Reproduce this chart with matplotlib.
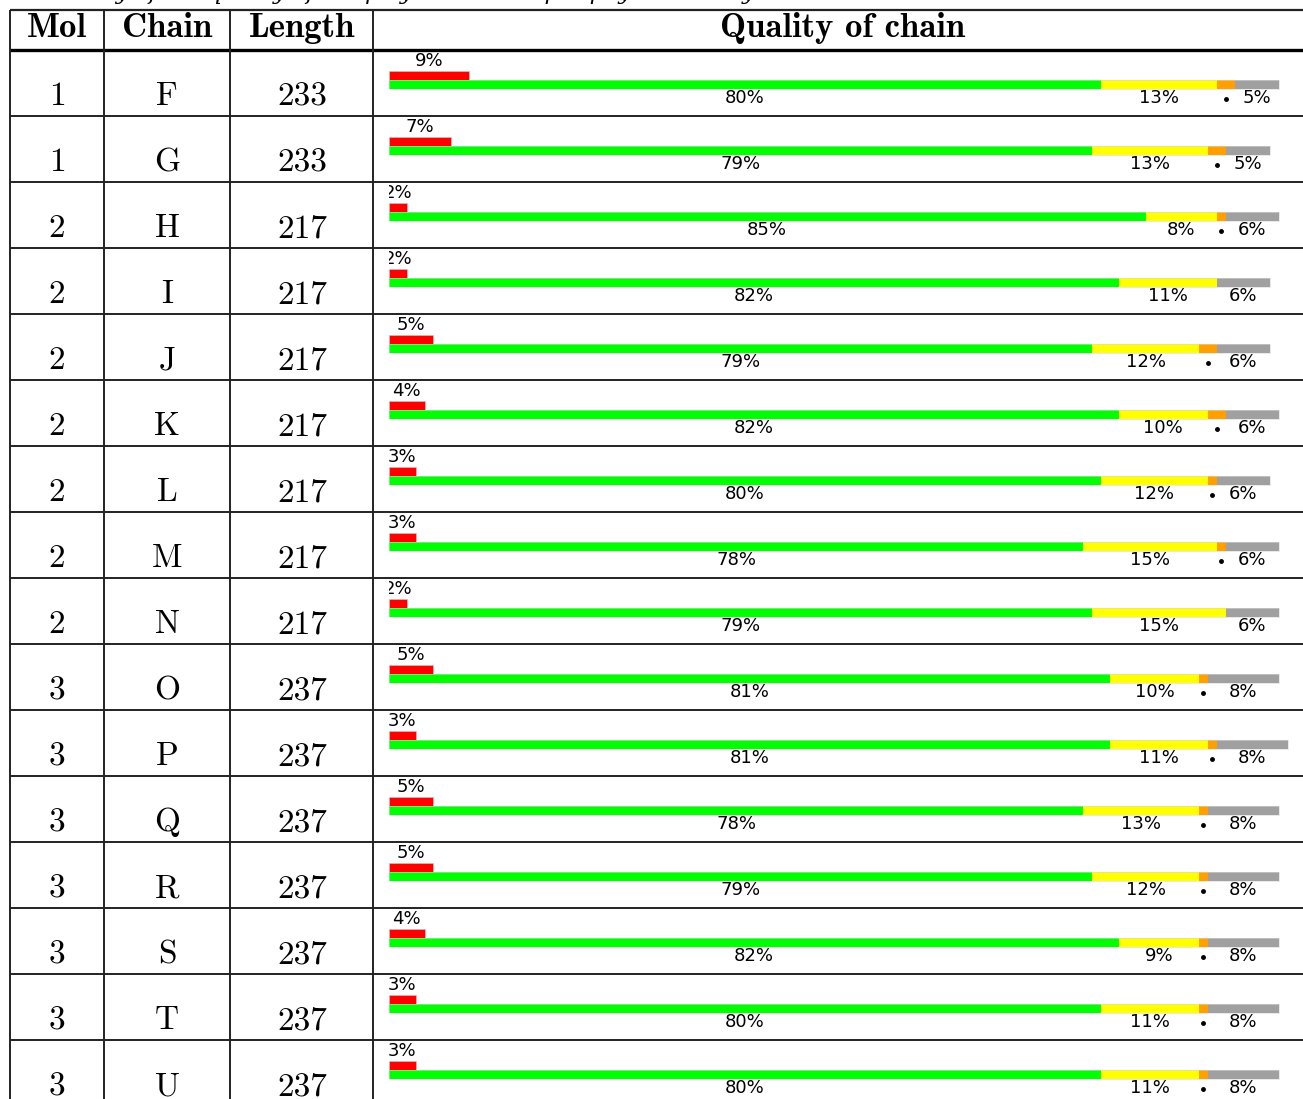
import matplotlib.pyplot as plt
import numpy as np

# table data
mols = [1, 1, 2, 2, 2, 2, 2, 2, 2, 3, 3, 3, 3, 3, 3, 3]
chains = ["F", "G", "H", "I", "J", "K", "L", "M", "N", "O", "P", "Q", "R", "S", "T", "U"]
lengths = [233, 233, 217, 217, 217, 217, 217, 217, 217, 237, 237, 237, 237, 237, 237, 237]

# quality of chain (percent of residues)
red_pct = [9, 7, 2, 2, 5, 4, 3, 3, 2, 5, 3, 5, 5, 4, 3, 3]
green_pct = [80, 79, 85, 82, 79, 82, 80, 78, 79, 81, 81, 78, 79, 82, 80, 80]
yellow_pct = [13, 13, 8, 11, 12, 10, 12, 15, 15, 10, 11, 13, 12, 9, 11, 11]
orange_pct = [2, 2, 1, 0, 2, 2, 1, 1, 0, 1, 1, 1, 1, 1, 1, 1]
gray_pct = [5, 5, 6, 6, 6, 6, 6, 6, 6, 8, 8, 8, 8, 8, 8, 8]

W, H = 1303, 1099
fig = plt.figure(figsize=(W / 100, H / 100), dpi=100)

# ---- table frame and text (pixel coordinates) ----
ax = fig.add_axes([0, 0, 1, 1])
ax.set_xlim(0, W)
ax.set_ylim(H, 0)
ax.axis("off")

row_h = 66
head_top, head_bot = 10, 50
col_edges = [10, 104, 230, 373]
col_centers = [57, 167, 302, 843]
n = len(chains)

# caption line above the table, cut off by the page edge (only descenders show)
ax.text(20, -1, "Summary of the quality of the polymer chains per physical entity",
        family="DejaVu Serif", style="italic", fontsize=16, va="baseline",
        color="black", clip_on=True)

ax.hlines(head_top, 10, W, color="#222222", lw=1.6)
ax.hlines(head_bot, 10, W, color="black", lw=2.4)
for i in range(1, n + 1):
    ax.hlines(head_bot + i * row_h, 10, W, color="#222222", lw=1.4)
ax.vlines(col_edges, head_top, H, color="#222222", lw=1.4)

headers = ["Mol", "Chain", "Length", "Quality of chain"]
for x, t in zip(col_centers, headers):
    ax.text(x, 37, t, family="cmb10", fontsize=25, ha="center", va="baseline")

for i in range(n):
    base = head_bot + i * row_h + 55
    for x, t in zip(col_centers[:3], [mols[i], chains[i], lengths[i]]):
        ax.text(x, base, str(t), family="cmr10", fontsize=24, ha="center", va="baseline")

# ---- quality bars (x in percent, y in row units) ----
x0 = 389
px_per_pct = 8.9
bx = fig.add_axes([x0 / W, 0, (W - x0) / W, (H - head_bot) / H])
bx.set_xlim(0, (W - x0) / px_per_pct)
bx.set_ylim((H - head_bot) / row_h, 0)
bx.axis("off")

bh = 9 / row_h
red_y = 25.5 / row_h
bar_y = 34.5 / row_h
lab_top = 11 / row_h
lab_bot = 48 / row_h
fs = 13

segs = [(green_pct, "#00ff00"), (yellow_pct, "#ffff00"),
        (orange_pct, "#ffa000"), (gray_pct, "#a0a0a0")]

for i in range(n):
    bx.barh(i + red_y, red_pct[i], height=bh, color="#ff0000",
            edgecolor="#e0c0c0", linewidth=0.4)
    bx.text(red_pct[i] / 2, i + lab_top, f"{red_pct[i]}%", ha="center",
            va="center", fontsize=fs, clip_on=True)
    left = 0
    for vals, c in segs:
        v = vals[i]
        if v == 0:
            continue
        bx.barh(i + bar_y, v, left=left, height=bh, color=c,
                edgecolor="none")
        mid = left + v / 2
        if c == "#ffa000":
            bx.plot(mid, i + lab_bot + 0.02, "o", color="black", ms=2.5)
        else:
            bx.text(mid, i + lab_bot, f"{v}%", ha="center", va="center",
                    fontsize=fs)
        left += v
    # light outline around the stacked bar
    bx.barh(i + bar_y, left, height=bh, color="none",
            edgecolor="#d8d8d8", linewidth=0.4)

fig.savefig("out.png", dpi=100)
